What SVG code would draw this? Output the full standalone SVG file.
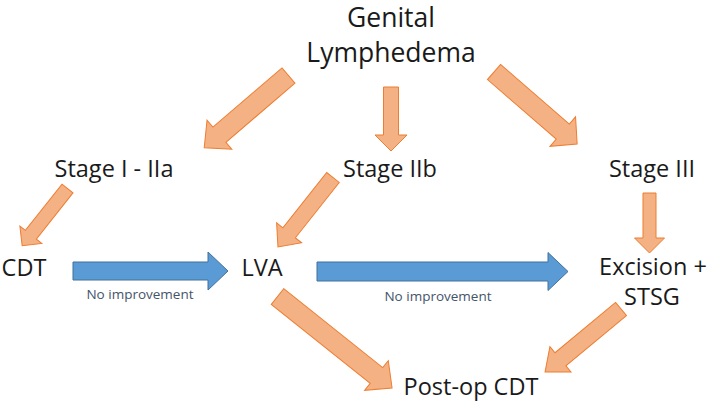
<svg xmlns="http://www.w3.org/2000/svg" width="712" height="410" viewBox="0 0 712 410">
<style>
.t{font-family:"Open Sans","Liberation Sans",sans-serif;fill:#1a1a1a;text-anchor:middle}
.big{font-size:26.5px}
.mid{font-size:23.5px}
.lbl{font-family:"Open Sans","Liberation Sans",sans-serif;font-size:13.5px;fill:#44546A;text-anchor:middle}
.o{fill:#F4B183;stroke:#ED7D31;stroke-width:1}
.b{fill:#5B9BD5;stroke:#41719C;stroke-width:1}
</style>
<rect width="712" height="410" fill="#ffffff"/>
<g id="connectors">
<polygon class="o" transform="translate(288.5,75.5) rotate(139.4)" points="0,-10 91,-10 91,-19 111,0 91,19 91,10 0,10"/>
<polygon class="o" transform="translate(391,87) rotate(90)" points="0,-7.5 48,-7.5 48,-16 64,0 48,16 48,7.5 0,7.5"/>
<polygon class="o" transform="translate(494,72) rotate(40.9)" points="0,-10 91,-10 91,-19.5 110,0 91,19.5 91,10 0,10"/>
<polygon class="o" transform="translate(67.5,188.5) rotate(128.4)" points="0,-7 59,-7 59,-14 73,0 59,14 59,7 0,7"/>
<polygon class="o" transform="translate(333,177.5) rotate(128.4)" points="0,-8 70.6,-8 70.6,-16 88.6,0 70.6,16 70.6,8 0,8"/>
<polygon class="o" transform="translate(649.5,193) rotate(90)" points="0,-6.5 45,-6.5 45,-15 60,0 45,15 45,6.5 0,6.5"/>
<polygon class="o" transform="translate(277.5,296.5) rotate(38.6)" points="0,-10 126.6,-10 126.6,-19 146.6,0 126.6,19 126.6,10 0,10"/>
<polygon class="o" transform="translate(621,309) rotate(140.3)" points="0,-8.5 78.7,-8.5 78.7,-16.5 98.7,0 78.7,16.5 78.7,8.5 0,8.5"/>
<polygon class="b" transform="translate(73,271)" points="0,-9 135,-9 135,-19 155,0 135,19 135,9 0,9"/>
<polygon class="b" transform="translate(317,271.5)" points="0,-9.5 231,-9.5 231,-19 251,0 231,19 231,9.5 0,9.5"/>
<text class="lbl" x="140" y="299">No improvement</text>
<text class="lbl" x="438" y="301">No improvement</text>
</g>
<g id="genital"><text class="t big" x="391" y="27">Genital</text><text class="t big" x="391" y="62">Lymphedema</text></g>
<g id="stage1"><text class="t mid" x="114" y="177">Stage I - IIa</text></g>
<g id="stage2b"><text class="t mid" x="390" y="177">Stage IIb</text></g>
<g id="stage3"><text class="t mid" x="652" y="177">Stage III</text></g>
<g id="cdt"><text class="t mid" x="24" y="276">CDT</text></g>
<g id="lva"><text class="t mid" x="262" y="276">LVA</text></g>
<g id="excision"><text class="t mid" x="653" y="275">Excision +</text><text class="t mid" x="652" y="305">STSG</text></g>
<g id="postop"><text class="t mid" x="471" y="395">Post-op CDT</text></g>
</svg>
